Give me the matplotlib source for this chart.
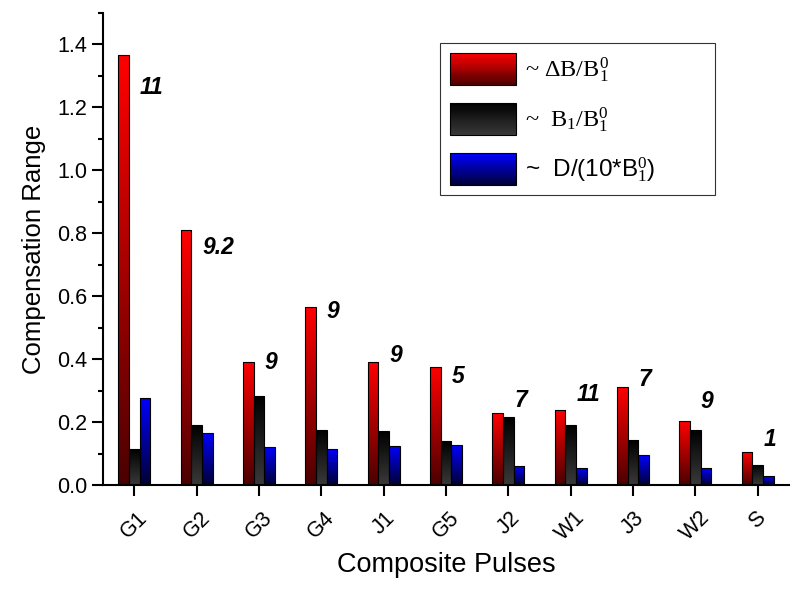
import numpy as np
import matplotlib
matplotlib.use("Agg")
import matplotlib.pyplot as plt
from matplotlib.patches import Rectangle
from matplotlib.legend_handler import HandlerBase
from matplotlib.colors import LinearSegmentedColormap
from matplotlib.ticker import MultipleLocator

plt.rcParams['font.family'] = ['Liberation Sans', 'DejaVu Sans']
plt.rcParams['mathtext.fontset'] = 'custom'
plt.rcParams['mathtext.rm'] = 'Liberation Serif'
plt.rcParams['mathtext.it'] = 'Liberation Serif:italic'

categories = ['G1', 'G2', 'G3', 'G4', 'J1', 'G5', 'J2', 'W1', 'J3', 'W2', 'S']
delta_b = [1.366, 0.809, 0.391, 0.565, 0.390, 0.374, 0.228, 0.239, 0.310, 0.203, 0.104]
b1 = [0.115, 0.191, 0.283, 0.176, 0.170, 0.139, 0.215, 0.192, 0.143, 0.176, 0.065]
d = [0.278, 0.166, 0.120, 0.115, 0.124, 0.127, 0.061, 0.054, 0.094, 0.054, 0.028]
pulse_counts = ['11', '9.2', '9', '9', '9', '5', '7', '11', '7', '9', '1']
label_y = [1.263, 0.754, 0.388, 0.551, 0.410, 0.344, 0.270, 0.286, 0.334, 0.264, 0.143]

series = [delta_b, b1, d]
labels = [r"~ $\Delta\mathrm{B/B}_1^0$",
          r"~  $\mathrm{B}_1\mathrm{/B}_1^0$",
          r"~  D/(10*B$_1^0$)"]
grads = [("#4a0000", "#ff0000"),
         ("#3a3a3a", "#000000"),
         ("#000033", "#0000ff")]
cmaps = [LinearSegmentedColormap.from_list(f"g{i}", g) for i, g in enumerate(grads)]

fig = plt.figure(figsize=(8, 5.9), dpi=100)
ax = fig.add_axes([0.129, 0.178, 0.857, 0.8])

x = np.arange(len(categories))
w = 0.17
offsets = [-w, 0, w]
grad = np.linspace(0, 1, 256).reshape(-1, 1)

for s, vals in enumerate(series):
    bars = ax.bar(x + offsets[s], vals, width=w, color='none', edgecolor='black',
                  linewidth=0.8, zorder=3)
    for bar in bars:
        bx, by = bar.get_x(), bar.get_y()
        bw, bh = bar.get_width(), bar.get_height()
        im = ax.imshow(grad, cmap=cmaps[s], aspect='auto', origin='lower',
                       extent=[bx, bx + bw, by, by + bh], zorder=2)
        im.set_clip_path(bar)

for i, (t, yy) in enumerate(zip(pulse_counts, label_y)):
    ax.text(x[i] + 0.09, yy, t, fontsize=16.5, fontweight='bold', style='italic',
            ha='left', va='center', zorder=4)

ax.set_xlim(-0.5, 10.5)
ax.set_ylim(0, 1.5)
ax.set_xticks(x)
ax.set_xticklabels(categories, rotation=45, ha='center', fontsize=15.5)
ax.yaxis.set_minor_locator(MultipleLocator(0.1))
yt = np.arange(0, 1.41, 0.2)
ax.set_yticks(yt)
ax.set_yticklabels([f"{v:.1f}" for v in yt], fontsize=15.5)
ax.tick_params(axis='both', which='major', direction='out', length=8, width=1.5)
ax.tick_params(axis='x', which='major', pad=8)
ax.tick_params(axis='y', which='minor', direction='out', length=3.8, width=1.5)
for sp in ['top', 'right']:
    ax.spines[sp].set_visible(False)
for sp in ['left', 'bottom']:
    ax.spines[sp].set_linewidth(1.5)
ax.set_ylabel("Compensation Range", fontsize=18.5, labelpad=8)
ax.set_xlabel("Composite Pulses", fontsize=19.5, labelpad=5)


class GradHandler(HandlerBase):
    def __init__(self, cmap):
        super().__init__()
        self.cmap = cmap

    def create_artists(self, legend, orig_handle, xdescent, ydescent, width,
                       height, fontsize, trans):
        arts = []
        n = 30
        for k in range(n):
            r = Rectangle((-xdescent, -ydescent + height * k / n), width,
                          height / n + 0.01, facecolor=self.cmap((k + 0.5) / n),
                          edgecolor='none', transform=trans)
            arts.append(r)
        arts.append(Rectangle((-xdescent, -ydescent), width, height,
                              facecolor='none', edgecolor='black', linewidth=0.8,
                              transform=trans))
        return arts


proxies = [Rectangle((0, 0), 1, 1) for _ in range(3)]
leg = ax.legend(proxies, labels,
                handler_map={proxies[i]: GradHandler(cmaps[i]) for i in range(3)},
                loc='upper left', bbox_to_anchor=(0.491, 0.5, 0.402, 0.436),
                mode='expand', borderaxespad=0,
                prop={'family': 'Liberation Serif', 'size': 17.5},
                handlelength=2.75, handleheight=1.65, handletextpad=0.35,
                labelspacing=0.75, borderpad=0.4, frameon=True, fancybox=False,
                edgecolor='black')
leg.get_frame().set_linewidth(0.8)
leg.get_texts()[2].set_family('Liberation Sans')
leg.get_texts()[2].set_fontsize(17.5)

fig.savefig("out.png", dpi=100)
